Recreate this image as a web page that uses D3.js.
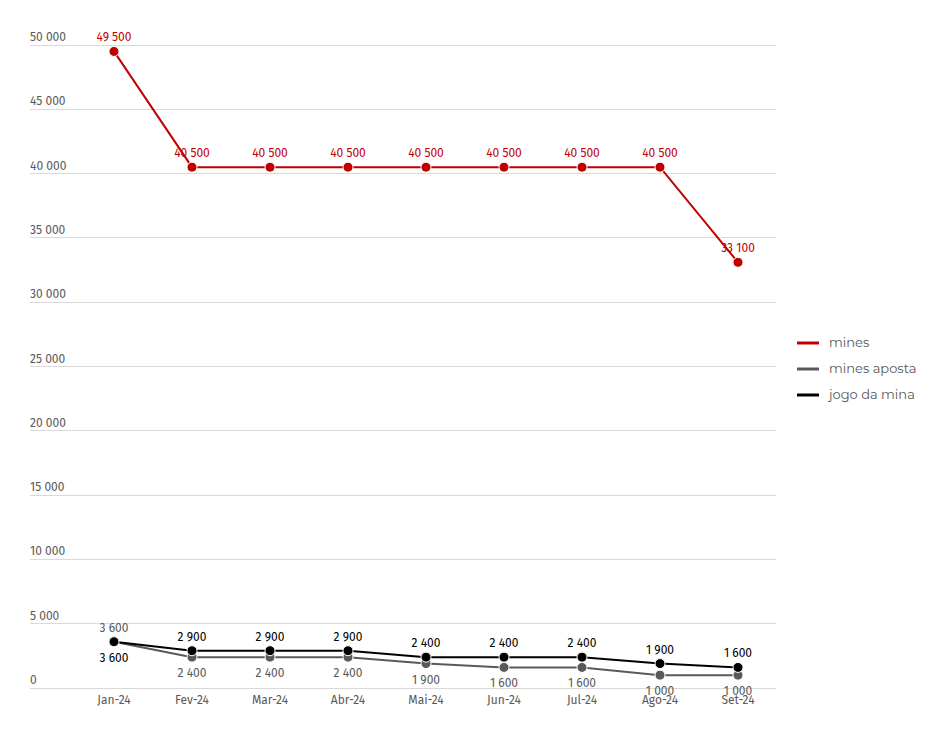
<!DOCTYPE html>
<html><head><meta charset="utf-8">
<script src="https://cdn.jsdelivr.net/npm/d3@7/dist/d3.min.js"></script>
<style>body{margin:0;background:#fff;}svg{display:block;}</style>
</head><body>
<svg id="c" width="943" height="738"></svg>
<script>
const categories = ["Jan-24","Fev-24","Mar-24","Abr-24","Mai-24","Jun-24","Jul-24","Ago-24","Set-24"];
const mines = [49500,40500,40500,40500,40500,40500,40500,40500,33100];
const minesAposta = [3600,2400,2400,2400,1900,1600,1600,1000,1000];
const jogoDaMina = [3600,2900,2900,2900,2400,2400,2400,1900,1600];
const yTicks = [0,5000,10000,15000,20000,25000,30000,35000,40000,45000,50000];
const seriesNames = ["mines","mines aposta","jogo da mina"];
// label positions: 1 = above, -1 = below
const minesPos = [1,1,1,1,1,1,1,1,1];
const apostaPos = [1,-1,-1,-1,-1,-1,-1,-1,-1];
const jogoPos = [-1,1,1,1,1,1,1,1,1];

const colors = ["#c00000","#595959","#000000"];
const svg = d3.select("#c");
const font = "'Fira Sans','Noto Sans',sans-serif";
const x = d3.scaleBand().domain(categories).range([75,777]);
const y = d3.scaleLinear().domain([0,50000]).range([688,45]);
const fmt = v => d3.format(",")(v).replace(/,/g," ");

// grid
svg.append("g").selectAll("line").data(yTicks).join("line")
  .attr("x1",30).attr("x2",776).attr("y1",d=>y(d)).attr("y2",d=>y(d))
  .attr("stroke","#d9d9d9").attr("stroke-width",1).attr("shape-rendering","crispEdges");
svg.append("g").selectAll("text").data(yTicks).join("text")
  .attr("x",30).attr("y",d=>y(d)-4).text(d=>fmt(d))
  .attr("font-family",font).attr("font-size",12).attr("fill","#595959");
// x labels
const xAxis = svg.append("g").attr("transform","translate(0,688)")
  .call(d3.axisBottom(x).tickSize(0).tickPadding(7));
xAxis.select(".domain").remove();
xAxis.selectAll("text").attr("font-family",font).attr("font-size",12).attr("fill","#595959");

const series = [
  {name:seriesNames[0], values:mines, color:colors[0], pos:minesPos, lc:colors[0]},
  {name:seriesNames[1], values:minesAposta, color:colors[1], pos:apostaPos, lc:"#595959"},
  {name:seriesNames[2], values:jogoDaMina, color:colors[2], pos:jogoPos, lc:"#000000"}
];
const cx = d => x(d)+x.bandwidth()/2;
const line = d3.line().x((d,i)=>cx(categories[i])).y(d=>y(d));
series.forEach(s=>{
  const g = svg.append("g");
  g.append("path").datum(s.values).attr("d",line).attr("fill","none")
    .attr("stroke",s.color).attr("stroke-width",2);
  g.selectAll("circle").data(s.values).join("circle")
    .attr("cx",(d,i)=>cx(categories[i])).attr("cy",d=>y(d)).attr("r",5)
    .attr("fill",s.color).attr("stroke","#fff").attr("stroke-width",1);
  g.selectAll("text").data(s.values).join("text")
    .attr("x",(d,i)=>cx(categories[i]))
    .attr("y",(d,i)=>s.pos[i]>0 ? y(d)-10 : y(d)+20)
    .attr("text-anchor","middle").text(d=>fmt(d))
    .attr("font-family",font).attr("font-size",12).attr("fill",s.lc);
});
// legend
const lg = svg.append("g");
series.forEach((s,i)=>{
  const yy = 343 + i*26;
  lg.append("line").attr("x1",797).attr("x2",819).attr("y1",yy).attr("y2",yy)
    .attr("stroke",s.color).attr("stroke-width",3);
  lg.append("text").attr("x",829).attr("y",yy+4).text(s.name)
    .attr("font-family","'Montserrat','Lato',sans-serif").attr("font-size",13).attr("fill","#595959");
});
</script>
</body></html>
